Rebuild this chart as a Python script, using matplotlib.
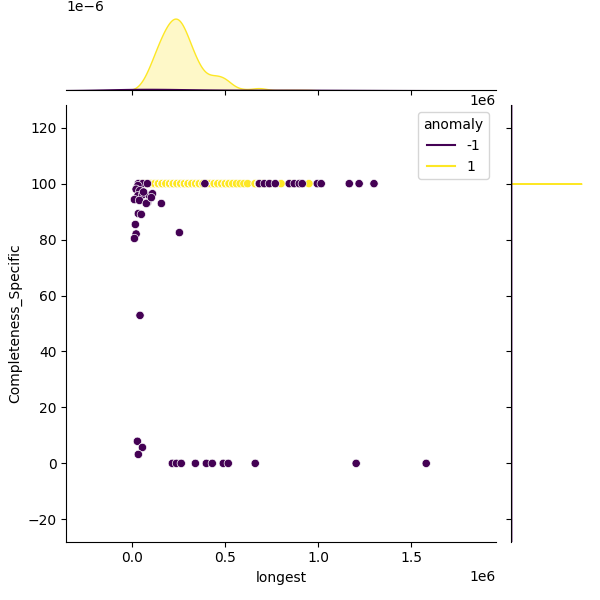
import matplotlib

matplotlib.use("Agg")
import matplotlib.pyplot as plt
import numpy as np
import pandas as pd
import seaborn as sns
from matplotlib.lines import Line2D

# anomaly == -1 (outliers)
outlier_longest = [
    0.032e6, 0.055e6, 0.081e6, 0.39e6, 0.683e6, 0.71e6, 0.737e6, 0.769e6,
    0.844e6, 0.871e6, 0.898e6, 0.914e6, 0.995e6, 1.016e6, 1.167e6, 1.22e6,
    1.30e6,
    0.030e6, 0.020e6, 0.040e6, 0.030e6, 0.054e6, 0.091e6, 0.011e6, 0.038e6,
    0.081e6, 0.075e6, 0.108e6, 0.102e6, 0.060e6, 0.156e6, 0.032e6, 0.048e6,
    0.016e6, 0.020e6, 0.011e6, 0.253e6, 0.041e6, 0.027e6, 0.054e6, 0.032e6,
    0.215e6, 0.237e6, 0.263e6, 0.339e6, 0.398e6, 0.430e6, 0.489e6, 0.516e6,
    0.661e6, 1.204e6, 1.581e6,
]
outlier_completeness = [
    100, 100, 100, 100, 100, 100, 100, 100,
    100, 100, 100, 100, 100, 100, 100, 100,
    100,
    99.3, 98.0, 97.5, 95.7, 96.0, 95.7, 94.3, 94.0,
    93.2, 92.9, 96.4, 95.0, 97.0, 92.9, 89.3, 89.0,
    85.4, 82.0, 80.4, 82.5, 52.9, 7.9, 5.7, 3.2,
    0, 0, 0, 0, 0, 0, 0, 0,
    0, 0, 0,
]

# anomaly == 1 (inliers): distinct lengths and how many rows share each one
inlier_longest = [
    0.04e6, 0.06e6, 0.08e6, 0.10e6, 0.12e6, 0.14e6, 0.16e6, 0.18e6, 0.20e6,
    0.22e6, 0.24e6, 0.26e6, 0.28e6, 0.30e6, 0.32e6, 0.34e6, 0.36e6, 0.38e6,
    0.40e6, 0.42e6, 0.44e6, 0.46e6, 0.48e6, 0.50e6, 0.52e6, 0.54e6, 0.56e6,
    0.58e6, 0.60e6, 0.62e6, 0.66e6, 0.68e6, 0.70e6, 0.74e6, 0.80e6, 0.85e6,
    0.90e6, 0.95e6,
]
inlier_counts = [
    3, 8, 15, 24, 33, 42, 50, 57, 63,
    67, 69, 66, 58, 48, 38, 30, 22, 16,
    12, 13, 14, 14, 13, 12, 9, 3, 2,
    1, 1, 1, 2, 4, 2, 1, 1, 1,
    1, 1,
]
inlier_low_rows = 3  # a few inlier rows sit just under 100
inlier_low_value = 99.9

yellow_x = np.repeat(inlier_longest, inlier_counts)
yellow_y = np.full(len(yellow_x), 100.0)
yellow_y[:inlier_low_rows] = inlier_low_value

df = pd.DataFrame({
    "longest": np.concatenate([yellow_x, outlier_longest]),
    "Completeness_Specific": np.concatenate([yellow_y, outlier_completeness]),
    "anomaly": [1] * len(yellow_x) + [-1] * len(outlier_longest),
})

g = sns.jointplot(
    data=df,
    x="longest",
    y="Completeness_Specific",
    hue="anomaly",
    palette="viridis",
    height=6,
)
g.ax_joint.set_xlim(-0.355e6, 1.957e6)
g.ax_joint.set_ylim(-28, 128)

cmap = plt.get_cmap("viridis")
handles = [Line2D([], [], color=cmap(0.0)), Line2D([], [], color=cmap(1.0))]
leg = g.ax_joint.get_legend()
if leg is not None:
    leg.remove()
g.ax_joint.legend(handles, ["-1", "1"], title="anomaly", loc="upper right")

g.figure.savefig("out.png", dpi=100)
